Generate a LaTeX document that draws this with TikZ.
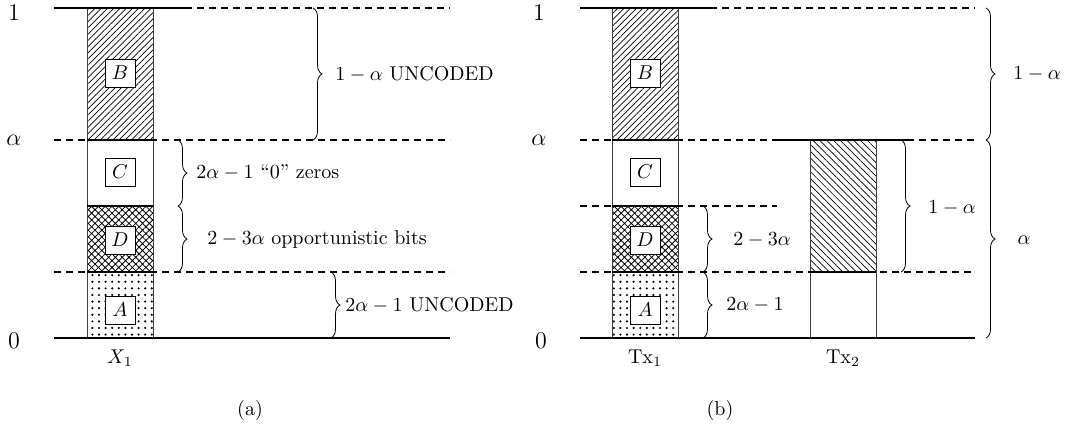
\documentclass[tikz,border=0pt]{standalone}
\usetikzlibrary{patterns.meta,decorations.pathreplacing}
\begin{document}
\begin{tikzpicture}[x=0.5pt,y=-0.5pt,
  axis/.style={line width=0.9pt},
  dline/.style={line width=0.9pt, dash pattern=on 3.5pt off 2.5pt},
  bar/.style={draw=black!75, line width=0.4pt},
  lbox/.style={draw, fill=white, minimum width=15pt, minimum height=14pt, inner sep=0pt},
  brc/.style={decorate, decoration={brace, amplitude=4.5pt}, line width=0.4pt},
  ax/.style={font=\large},
  lab/.style={anchor=west, inner sep=0pt},
  hatchB/.style={pattern={Lines[angle=45,distance=2.2pt,line width=0.35pt]}},
  hatchT/.style={pattern={Lines[angle=-45,distance=2.4pt,line width=0.35pt]}},
  cross/.style={pattern={Hatch[angle=45,distance=2.4pt,line width=0.4pt]}},
  dotp/.style={pattern={Dots[distance=3.3pt,radius=0.6pt]}},
]
\useasboundingbox (0,0) rectangle (1065,427);

% ================= panel (a) =================
\fill[hatchB] (87,8) rectangle (153,140);
\fill[cross] (87,206) rectangle (153,272);
\fill[dotp] (87,272) rectangle (153,338);
\draw[bar] (87,8) -- (87,338) (153,8) -- (153,338);

\draw[axis] (54,8) -- (185,8);
\draw[dline] (185,8) -- (450,8);
\draw[dline] (54,140) -- (450,140);
\draw[axis] (87,140) -- (153,140);
\draw[axis] (87,206) -- (153,206);
\draw[dline] (54,272) -- (450,272);
\draw[axis] (87,272) -- (153,272);
\draw[axis] (54,338) -- (450,338);

\node[lbox] (Ba) at (120,73) {$B$};
\node[lbox] (Ca) at (120,172) {$C$};
\node[lbox] (Da) at (120,240) {$D$};
\node[lbox] (Aa) at (120,310) {$A$};

\node[ax] (onea) at (14,13) {1};
\node[ax] (alphaa) at (14,140) {$\alpha$};
\node[ax] (zeroa) at (14,341) {0};
\node (X1) at (120,358) {$X_1$};
\node (capa) at (250,410) {(a)};

\coordinate (a1t) at (313,8);   \coordinate (a1b) at (313,140);
\coordinate (a2t) at (178,140); \coordinate (a2b) at (178,206);
\coordinate (a3t) at (178,206); \coordinate (a3b) at (178,272);
\coordinate (a4t) at (331,272); \coordinate (a4b) at (331,338);
\draw[brc] (a1t) -- (a1b);
\draw[brc] (a2t) -- (a2b);
\draw[brc] (a3t) -- (a3b);
\draw[brc] (a4t) -- (a4b);
\node[lab] (la1) at (335,74) {$1-\alpha$ UNCODED};
\node[lab] (la2) at (196,172) {$2\alpha-1$ ``0'' zeros};
\node[lab] (la3) at (207,240) {$2-3\alpha$ opportunistic bits};
\node[lab] (la4) at (345,305) {$2\alpha-1$ UNCODED};

% ================= panel (b) =================
\fill[hatchB] (612,8) rectangle (678,140);
\fill[cross] (612,206) rectangle (678,272);
\fill[dotp] (612,272) rectangle (678,338);
\draw[bar] (612,8) -- (612,338) (678,8) -- (678,338);
\fill[hatchT] (810,140) rectangle (876,272);
\draw[bar] (810,140) -- (810,338) (876,140) -- (876,338);

\draw[axis] (580,8) -- (710,8);
\draw[dline] (710,8) -- (975,8);
\draw[dline] (580,140) -- (775,140);
\draw[axis] (775,140) -- (907,140);
\draw[dline] (907,140) -- (975,140);
\draw[axis] (612,140) -- (678,140);
\draw[dline] (580,206) -- (777,206);
\draw[axis] (612,206) -- (678,206);
\draw[dline] (580,272) -- (975,272);
\draw[axis] (612,272) -- (678,272);
\draw[axis] (810,272) -- (876,272);
\draw[axis] (580,338) -- (975,338);

\node[lbox] (Bb) at (645,73) {$B$};
\node[lbox] (Cb) at (645,172) {$C$};
\node[lbox] (Db) at (645,240) {$D$};
\node[lbox] (Ab) at (645,310) {$A$};

\node[ax] (oneb) at (539,13) {1};
\node[ax] (alphab) at (539,140) {$\alpha$};
\node[ax] (zerob) at (541,341) {0};
\node (Tx1) at (645,358) {$\mathrm{Tx}_1$};
\node (Tx2) at (843,358) {$\mathrm{Tx}_2$};
\node (capb) at (720,410) {(b)};

\coordinate (b1t) at (703,206); \coordinate (b1b) at (703,272);
\coordinate (b2t) at (703,272); \coordinate (b2b) at (703,338);
\coordinate (b3t) at (901,140); \coordinate (b3b) at (901,272);
\coordinate (b4t) at (986,8);   \coordinate (b4b) at (986,140);
\coordinate (b5t) at (986,140); \coordinate (b5b) at (986,338);
\draw[brc] (b1t) -- (b1b);
\draw[brc] (b2t) -- (b2b);
\draw[brc] (b3t) -- (b3b);
\draw[brc] (b4t) -- (b4b);
\draw[brc] (b5t) -- (b5b);
\node[lab] (lb1) at (733,240) {$2-3\alpha$};
\node[lab] (lb2) at (726,305) {$2\alpha-1$};
\node[lab] (lb3) at (928,208) {$1-\alpha$};
\node[lab] (lb4) at (1013,74) {$1-\alpha$};
\node (lb5) at (1024,240) {$\alpha$};
\end{tikzpicture}
\end{document}
